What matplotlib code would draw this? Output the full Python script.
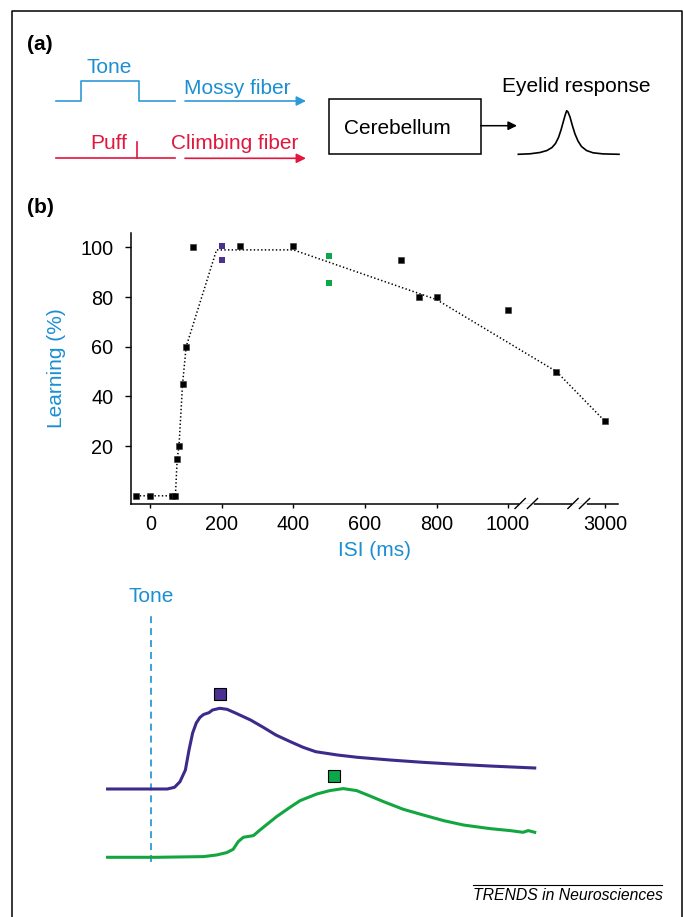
import matplotlib
matplotlib.use('Agg')
import matplotlib.pyplot as plt
import matplotlib.patches as patches
import numpy as np

plt.rcParams['font.family'] = ['Liberation Sans', 'DejaVu Sans']
plt.rcParams['lines.scale_dashes'] = False

# Colours
blue_txt = '#1b8fd2'
blue_line = '#2d9ad8'
red = '#e2173e'
purple = '#3d2a8a'
purple_mk = '#4a3192'
green = '#12a640'
green_mk = '#0aa84a'

# ---- panel (a) schematic shapes (figure pixel units) ----
tone_x = [56, 81, 81, 138.7, 138.7, 175]
tone_y = [101, 101, 80.7, 80.7, 101, 101]
puff_x = [56, 175]
puff_y = [158.3, 158.3]
puff_tick_x = [136.7, 136.7]
puff_tick_y = [141.7, 158.3]
bell_x = [518.3, 530, 540, 547, 552, 555.5, 558.5, 561, 563.5, 565.5, 566.7, 568,
          570, 572.5, 575, 578, 581.5, 586.5, 593, 603, 619]
bell_y = [154.3, 153.8, 152.5, 150.5, 147.5, 143.5, 137.5, 130, 121, 114, 110.7, 112,
          117, 126, 134, 141, 146.5, 150.5, 152.8, 153.9, 154.3]

# ---- panel (b) learning vs ISI ----
isi_black = [-40, 0, 60, 70, 75, 80, 90, 100, 120, 250, 400, 700, 750, 800, 1000, 2000, 3000]
learn_black = [0, 0, 0, 0, 15, 20, 45, 60, 100, 100.5, 100.5, 95, 80, 80, 75, 50, 30]
isi_purple = [200, 200]
learn_purple = [100.5, 95]
isi_green = [500, 500]
learn_green = [96.5, 85.5]
isi_fit = [-40, 70, 75, 80, 90, 100, 185, 400, 800, 2000, 3000]
learn_fit = [0, 0, 15, 20, 45, 60, 99, 99, 79, 50, 30]
x_ticks = [0, 200, 400, 600, 800, 1000, 3000]
y_ticks = [20, 40, 60, 80, 100]

# ---- eyelid traces (time in ms from tone onset, amplitude a.u.) ----
t_purple = [-120, 45, 65, 80, 95, 105, 115, 125, 135, 145, 160, 170, 190, 210, 235, 275, 310,
            345, 385, 420, 455, 515, 570, 660, 750, 845, 935, 1060]
a_purple = [0, 0, 0.17, 0.73, 1.9, 3.9, 5.6, 6.6, 7.15, 7.45, 7.63, 7.9, 8.07, 7.97, 7.57, 6.9,
            6.17, 5.4, 4.73, 4.17, 3.73, 3.4, 3.17, 2.9, 2.67, 2.47, 2.3, 2.1]
t_green = [-120, 15, 145, 181, 209, 227, 241, 255, 283, 301, 347, 384, 412, 458, 494, 531,
           568, 605, 642, 697, 752, 808, 863, 936, 992, 1028, 1042, 1060]
a_green = [0, 0, 0.07, 0.23, 0.47, 0.8, 1.57, 2.0, 2.17, 2.73, 4.07, 5.0, 5.67, 6.33, 6.67, 6.87,
           6.67, 6.13, 5.57, 4.8, 4.23, 3.67, 3.23, 2.87, 2.67, 2.5, 2.67, 2.5]
green_offset = -6.83
mark_t = [190, 505]
mark_a = [9.53, 1.3]

fig = plt.figure(figsize=(6.84, 9.17), dpi=100)

# background axes in pixel coordinates
bg = fig.add_axes([0, 0, 1, 1])
bg.set_xlim(0, 684)
bg.set_ylim(917, 0)
bg.axis('off')

# outer frame (open at the bottom)
bg.plot([12.3, 12.3, 682, 682], [917, 10.7, 10.7, 917], color='black', lw=1.1)

bg.text(26.7, 50, '(a)', fontsize=15, fontweight='bold', va='baseline')
bg.text(26.7, 213, '(b)', fontsize=15, fontweight='bold', va='baseline')

bg.plot(tone_x, tone_y, color=blue_line, lw=1.2)
bg.text(109.5, 73.3, 'Tone', color=blue_txt, fontsize=15, ha='center', va='baseline')
bg.text(184, 93.5, 'Mossy fiber', color=blue_txt, fontsize=15, va='baseline')
bg.annotate('', xy=(306, 101), xytext=(185, 101),
            arrowprops=dict(arrowstyle='-|>', color=blue_line, lw=1.2,
                            mutation_scale=14, shrinkA=0, shrinkB=0))

bg.plot(puff_x, puff_y, color=red, lw=1.2)
bg.plot(puff_tick_x, puff_tick_y, color=red, lw=1.2)
bg.text(90, 149.3, 'Puff', color=red, fontsize=15, va='baseline')
bg.text(170.7, 149.3, 'Climbing fiber', color=red, fontsize=15, va='baseline')
bg.annotate('', xy=(306, 158.3), xytext=(185, 158.3),
            arrowprops=dict(arrowstyle='-|>', color=red, lw=1.2,
                            mutation_scale=14, shrinkA=0, shrinkB=0))

bg.add_patch(patches.Rectangle((329.3, 99), 151.4, 55.3, fill=False,
                               edgecolor='black', lw=1.1))
bg.text(344, 134, 'Cerebellum', fontsize=15, va='baseline')
bg.annotate('', xy=(517, 125.7), xytext=(480.7, 125.7),
            arrowprops=dict(arrowstyle='-|>', color='black', lw=1.1,
                            mutation_scale=13, shrinkA=0, shrinkB=0))
bg.text(501.7, 92.3, 'Eyelid response', fontsize=15, va='baseline')
bg.plot(bell_x, bell_y, color='black', lw=1.2, solid_joinstyle='round')

# footer
bg.plot([472.7, 662], [885, 885], color='black', lw=0.8)
bg.text(472.7, 900.5, 'TRENDS in Neurosciences', fontsize=11.3, fontstyle='italic',
        va='baseline')

# ---- panel (b) ----
def fwd(x):
    x = np.asarray(x, dtype=float)
    return np.where(x <= 1000, x, 1000 + (x - 1000) * 0.1355)


def inv(p):
    p = np.asarray(p, dtype=float)
    return np.where(p <= 1000, p, 1000 + (p - 1000) / 0.1355)


ax = fig.add_axes([130.7 / 684, (917 - 503.5) / 917, 487.3 / 684, 270.5 / 917])
ax.patch.set_alpha(0)
ax.set_xscale('function', functions=(fwd, inv))
ax.set_xlim(-55, 3269)
ax.set_ylim(-3.1, 105.8)

ax.plot(isi_fit, learn_fit, color='black', ls=':', lw=1.1, zorder=2)
ax.plot(isi_black, learn_black, ls='none', marker='s', ms=5, color='black',
        mec='#333333', mew=0.4, zorder=3)
ax.plot(isi_purple, learn_purple, ls='none', marker='s', ms=5, color=purple_mk,
        mew=0, zorder=3)
ax.plot(isi_green, learn_green, ls='none', marker='s', ms=5, color=green_mk,
        mew=0, zorder=3)

for s in ['top', 'right']:
    ax.spines[s].set_visible(False)
for s in ['left', 'bottom']:
    ax.spines[s].set_linewidth(1.1)

ax.set_xticks(x_ticks)
ax.set_xticklabels([str(v) for v in x_ticks])
ax.set_yticks(y_ticks)
ax.xaxis.set_minor_locator(matplotlib.ticker.NullLocator())
ax.tick_params(axis='x', direction='out', length=2.6, width=1, pad=6, labelsize=14.3)
ax.tick_params(axis='y', direction='out', length=4.5, width=1, pad=8, labelsize=14.3)

ax.set_xlabel('ISI (ms)', color=blue_txt, fontsize=15, labelpad=5)
ax.set_ylabel('Learning (%)', color=blue_txt, fontsize=15, labelpad=10)

# axis break marks
for c1, c2 in [(0.7992, 0.8245), (0.9077, 0.9313)]:
    ax.plot([c1, c2], [0, 0], transform=ax.transAxes, color='white', lw=2,
            clip_on=False, zorder=5)
    for c in (c1, c2):
        ax.plot([c - 0.0105, c + 0.0105], [-0.0185, 0.0185], transform=ax.transAxes,
                color='black', lw=1.0, clip_on=False, zorder=6)

# ---- eyelid traces ----
axc = fig.add_axes([100 / 684, (917 - 880) / 917, 450 / 684, 300 / 917])
axc.patch.set_alpha(0)
axc.set_xlim(-140.9, 1102.2)
axc.set_ylim(-9.1, 20.9)
axc.axis('off')

axc.plot([0, 0], [-7.3, 17.6], color=blue_line, lw=1.3, dashes=(5, 3.6))
axc.text(0, 18.7, 'Tone', color=blue_txt, fontsize=15, ha='center', va='baseline')
axc.plot(t_purple, a_purple, color=purple, lw=2.2, solid_joinstyle='round')
axc.plot(t_green, np.array(a_green) + green_offset, color=green, lw=2.2,
         solid_joinstyle='round')
axc.plot(mark_t[0], mark_a[0], marker='s', ms=9, color=purple_mk, mec='black', mew=0.8)
axc.plot(mark_t[1], mark_a[1], marker='s', ms=9, color=green_mk, mec='black', mew=0.8)

fig.savefig('out.png', dpi=100)
